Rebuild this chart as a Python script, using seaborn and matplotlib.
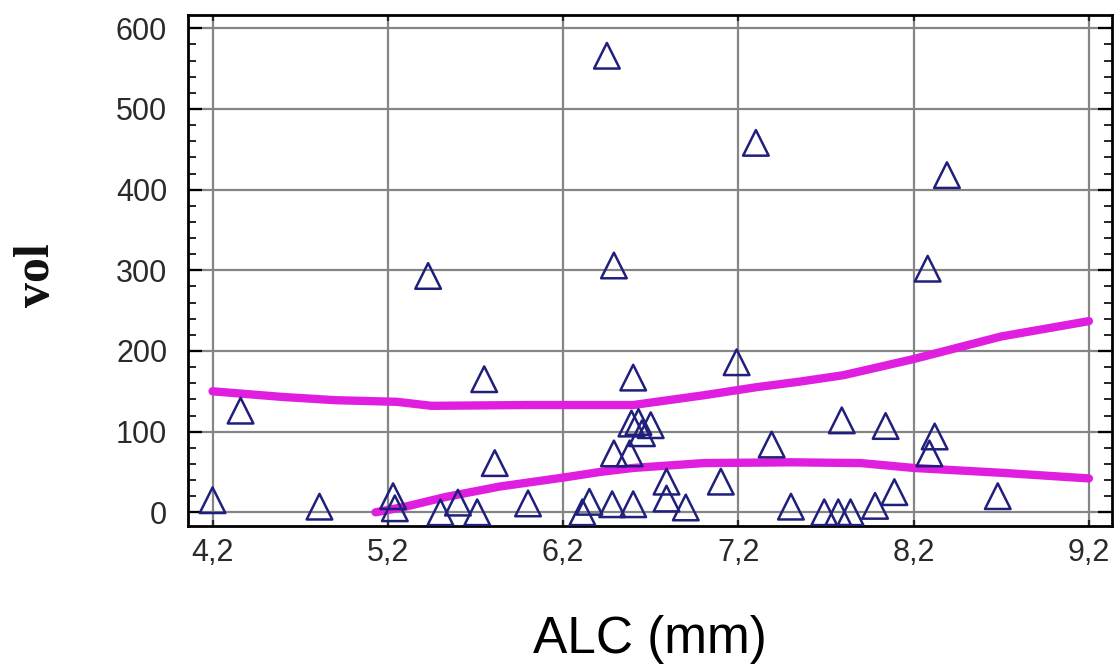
import matplotlib
matplotlib.use("Agg")
import matplotlib.pyplot as plt
import seaborn as sns
import pandas as pd
import numpy as np
from matplotlib.ticker import MultipleLocator, FixedLocator

# ---- data ----
alc = [4.20, 4.36, 4.81, 5.23, 5.24, 5.43, 5.50, 5.60, 5.71, 5.75, 5.81, 6.00,
       6.31, 6.35, 6.45, 6.48, 6.60, 6.49, 6.58, 6.49, 6.60, 6.59, 6.63, 6.70,
       6.65, 6.79, 6.79, 6.90, 7.10, 7.19, 7.30, 7.39, 7.50, 7.69, 7.77, 7.84,
       7.79, 7.98, 8.09, 8.04, 8.28, 8.32, 8.29, 8.39, 8.68]
vol = [15, 126, 7, 20, 5, 293, 0, 12, 0, 165, 61, 11,
       0, 13, 566, 10, 10, 73, 73, 306, 167, 110, 112, 108,
       98, 38, 17, 6, 38, 186, 458, 84, 7, 0, 0, 0,
       114, 8, 25, 107, 302, 94, 73, 418, 20]

upper_x = [4.2, 4.6, 4.9, 5.25, 5.45, 6.0, 6.6, 7.0, 7.3, 7.55, 7.8, 8.2, 8.7, 9.2]
upper_y = [150, 143, 139, 137, 132, 133, 133, 145, 155, 162, 170, 190, 218, 237]
lower_x = [5.13, 5.3, 5.53, 5.84, 6.2, 6.41, 6.6, 7.0, 7.5, 7.9, 8.2, 8.7, 9.2]
lower_y = [0, 7, 19, 32, 43, 50, 55, 61, 62, 61, 55, 49, 42]

xticks = [4.2, 5.2, 6.2, 7.2, 8.2, 9.2]
xticklabels = ["4,2", "5,2", "6,2", "7,2", "8,2", "9,2"]
yticks = [0, 100, 200, 300, 400, 500, 600]

sns.set_style("white")
plt.rcParams["font.family"] = ["Liberation Sans", "DejaVu Sans"]

fig = plt.figure(figsize=(11.19, 6.65), dpi=100)
ax = fig.add_axes([188 / 1119, 1 - 525.7 / 665, (1111.7 - 188) / 1119, (525.7 - 15) / 665])

MAG = "#e01ee0"
NAVY = "#20207c"

sns.lineplot(x=upper_x, y=upper_y, ax=ax, color=MAG, linewidth=6, zorder=2)
sns.lineplot(x=lower_x, y=lower_y, ax=ax, color=MAG, linewidth=6, zorder=2)
df = pd.DataFrame({"ALC": alc, "vol": vol})
sns.scatterplot(data=df, x="ALC", y="vol", ax=ax, marker="^", s=340,
                facecolors="none", edgecolor=NAVY, linewidth=1.8, zorder=3)

ax.set_xlim(4.06, 9.33)
ax.set_ylim(-16.6, 616.5)

ax.xaxis.set_major_locator(FixedLocator(xticks))
ax.set_xticklabels(xticklabels)
ax.yaxis.set_major_locator(FixedLocator(yticks))
ax.yaxis.set_minor_locator(MultipleLocator(20))

ax.grid(True, which="major", color="#858585", linewidth=1.6)
ax.set_axisbelow(True)

for sp in ax.spines.values():
    sp.set_visible(True)
    sp.set_color("black")
    sp.set_linewidth(2)

ax.tick_params(axis="y", which="major", direction="in", length=10, width=1.6,
               left=True, right=True, labelsize=22, pad=15, colors="black")
ax.tick_params(axis="y", which="minor", direction="in", length=6, width=1.4,
               left=True, right=True)
ax.tick_params(axis="x", which="major", direction="in", length=4, width=1.6,
               bottom=True, top=True, labelsize=22, pad=9)
for lab in ax.get_xticklabels() + ax.get_yticklabels():
    lab.set_color("#2a2a2a")

ax.set_xlabel("ALC (mm)", fontsize=37, color="black")
ax.xaxis.set_label_coords(0.5, -0.175)
ax.set_ylabel("vol", fontsize=36, family=["Liberation Serif", "DejaVu Serif"],
              fontweight="bold", color="#111111")
ax.yaxis.set_label_coords(-0.139, 0.49)

fig.savefig("out.png", dpi=100, facecolor="white")
